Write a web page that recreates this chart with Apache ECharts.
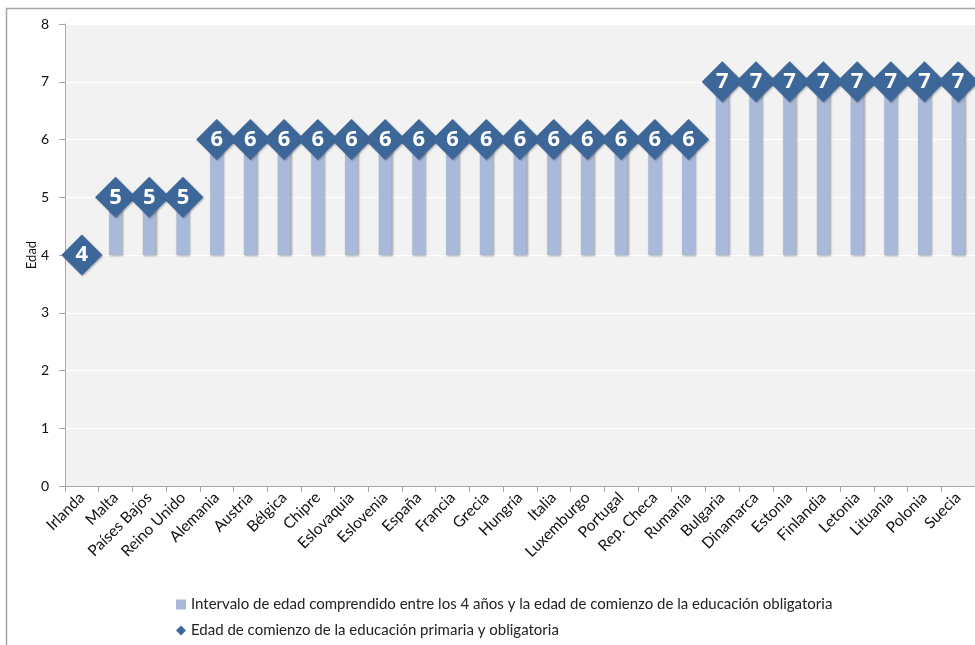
<!DOCTYPE html>
<html>
<head>
<meta charset="utf-8">
<script src="https://cdn.jsdelivr.net/npm/echarts@6/dist/echarts.min.js"></script>
<style>
  html, body { margin: 0; padding: 0; background: #fff; }
  #main { width: 975px; height: 645px; }
</style>
</head>
<body>
<div id="main"></div>
<script>
var paises = ['Irlanda', 'Malta', 'Países Bajos', 'Reino Unido', 'Alemania', 'Austria', 'Bélgica',
  'Chipre', 'Eslovaquia', 'Eslovenia', 'España', 'Francia', 'Grecia', 'Hungría', 'Italia',
  'Luxemburgo', 'Portugal', 'Rep. Checa', 'Rumanía', 'Bulgaria', 'Dinamarca', 'Estonia',
  'Finlandia', 'Letonia', 'Lituania', 'Polonia', 'Suecia'];
var edadInicio = [4, 5, 5, 5, 6, 6, 6, 6, 6, 6, 6, 6, 6, 6, 6, 6, 6, 6, 6, 7, 7, 7, 7, 7, 7, 7, 7];
var edadBase = 4;
var yTicks = [0, 1, 2, 3, 4, 5, 6, 7, 8];

var nombreBarra = 'Intervalo de edad comprendido entre los 4 años y la edad de comienzo de la educación obligatoria';
var nombreRombo = 'Edad de comienzo de la educación primaria y obligatoria';

var base = edadInicio.map(function () { return edadBase; });
var intervalo = edadInicio.map(function (v) { return v - edadBase; });

var chart = echarts.init(document.getElementById('main'));
var fuente = 'Lato, "Open Sans", sans-serif';

var option = {
  textStyle: { fontFamily: fuente },
  graphic: [{
    type: 'rect',
    shape: { x: 6.5, y: 8.5, width: 1000, height: 1000 },
    style: { fill: 'none', stroke: '#a6a6a6', lineWidth: 1.5 },
    silent: true
  }],
  grid: { left: 65, top: 24, right: 0, bottom: 159, show: true, backgroundColor: '#f2f2f2', borderWidth: 0 },
  legend: {
    orient: 'vertical',
    left: 171,
    top: 592,
    itemGap: 11,
    itemWidth: 10,
    itemHeight: 10,
    textStyle: { fontSize: 15, color: '#222', fontFamily: fuente },
    data: [
      { name: nombreBarra, icon: 'rect', itemStyle: { color: '#a9b9d9' } },
      { name: nombreRombo, icon: 'diamond', itemStyle: { color: '#3d6699' } }
    ]
  },
  xAxis: {
    type: 'category',
    data: paises,
    boundaryGap: true,
    axisLine: { lineStyle: { color: '#a6a6a6' } },
    axisTick: { show: true, length: 6, lineStyle: { color: '#a6a6a6' } },
    axisLabel: { interval: 0, rotate: 45, fontSize: 15.5, color: '#111', margin: 9 }
  },
  yAxis: {
    type: 'value',
    min: yTicks[0],
    max: yTicks[yTicks.length - 1],
    interval: 1,
    name: 'Edad',
    nameLocation: 'middle',
    nameGap: 27,
    nameMoveOverlap: false,
    nameTextStyle: { fontSize: 13, color: '#111' },
    axisLine: { show: true, lineStyle: { color: '#a6a6a6' } },
    axisTick: { show: true, length: 6, lineStyle: { color: '#a6a6a6' } },
    axisLabel: { fontSize: 14, color: '#111', margin: 16 },
    splitLine: { lineStyle: { color: '#ffffff', width: 1 } }
  },
  series: [
    {
      name: 'base',
      type: 'bar',
      stack: 'edad',
      data: base,
      barWidth: 13,
      itemStyle: { color: 'transparent' },
      silent: true
    },
    {
      name: nombreBarra,
      type: 'bar',
      stack: 'edad',
      data: intervalo,
      barWidth: 13,
      itemStyle: {
        color: '#a9b9d9',
        shadowColor: 'rgba(0,0,0,0.35)',
        shadowBlur: 2,
        shadowOffsetX: 1,
        shadowOffsetY: 1
      }
    },
    {
      name: nombreRombo,
      type: 'scatter',
      data: edadInicio,
      symbol: 'diamond',
      symbolSize: [41, 41],
      z: 5,
      itemStyle: {
        color: '#3d6699',
        opacity: 1,
        shadowColor: 'rgba(0,0,0,0.3)',
        shadowBlur: 2,
        shadowOffsetX: 1,
        shadowOffsetY: 1
      },
      label: {
        show: true,
        position: 'inside',
        color: '#fff',
        fontSize: 22,
        fontWeight: 'bold',
        fontFamily: '"Open Sans", sans-serif',
        formatter: function (p) { return p.value; }
      }
    }
  ]
};

chart.setOption(option);
</script>
</body>
</html>
